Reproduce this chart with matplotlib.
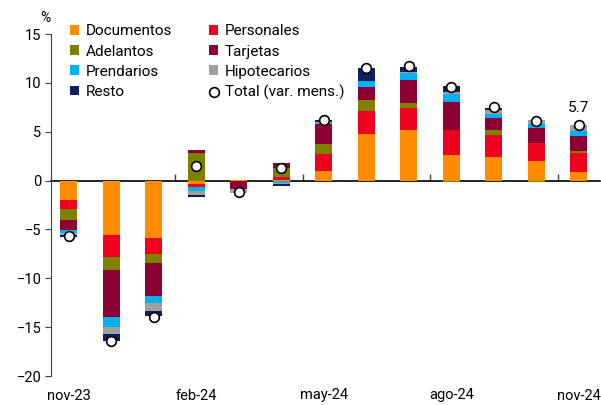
import numpy as np
import matplotlib.pyplot as plt
from matplotlib.lines import Line2D

plt.rcParams['font.family'] = ['Roboto', 'DejaVu Sans']

meses = ['nov-23', 'dic-23', 'ene-24', 'feb-24', 'mar-24', 'abr-24', 'may-24',
         'jun-24', 'jul-24', 'ago-24', 'sep-24', 'oct-24', 'nov-24']

# contribuciones en p.p.
documentos   = [-2.0, -5.53, -5.9, -0.34, 0.1, 0.05, 1.02, 4.78, 5.19, 2.59, 2.39, 1.98, 0.89]
personales   = [-0.92, -2.32, -1.6, -0.34, 0.0, 0.31, 1.71, 2.35, 2.25, 2.59, 2.25, 1.88, 1.94]
adelantos    = [-1.09, -1.33, -0.89, 2.8, -0.08, 0.89, 0.99, 1.09, 0.48, -0.17, 0.55, -0.1, 0.17]
tarjetas     = [-1.02, -4.78, -3.41, 0.3, -0.75, 0.58, 2.08, 1.4, 2.39, 2.83, 1.19, 1.54, 1.6]
prendarios   = [-0.31, -1.02, -0.75, -0.41, -0.03, -0.2, 0.1, 0.61, 0.68, 0.89, 0.48, 0.41, 0.44]
hipotecarios = [-0.24, -0.72, -0.75, -0.41, -0.4, -0.2, 0.05, 0.0, 0.1, 0.17, 0.38, 0.34, 0.65]
resto        = [-0.17, -0.68, -0.61, -0.14, 0.0, -0.15, 0.2, 1.26, 0.51, 0.65, 0.2, 0.0, 0.0]
total        = [-5.7, -16.4, -14.0, 1.45, -1.16, 1.3, 6.2, 11.5, 11.7, 9.6, 7.5, 6.1, 5.7]

series = [
    ('Documentos', documentos, '#FF8C00'),
    ('Personales', personales, '#F0001E'),
    ('Adelantos', adelantos, '#808000'),
    ('Tarjetas', tarjetas, '#8C0034'),
    ('Prendarios', prendarios, '#00B0F0'),
    ('Hipotecarios', hipotecarios, '#A0A0A0'),
    ('Resto', resto, '#0C1F5E'),
]

x = np.arange(len(meses))

fig = plt.figure(figsize=(6.01, 4.05), dpi=100)
ax = fig.add_axes([51/601, 29/405, 549/601, 342/405])

pos_base = np.zeros(len(x))
neg_base = np.zeros(len(x))
handles = {}
for nombre, vals, col in series:
    v = np.array(vals)
    base = np.where(v >= 0, pos_base, neg_base)
    b = ax.bar(x, v, 0.4, bottom=base, color=col, label=nombre, zorder=2)
    handles[nombre] = b
    pos_base += np.where(v >= 0, v, 0)
    neg_base += np.where(v < 0, v, 0)

ax.plot(x, total, 'o', ms=7, mfc='white', mec='black', mew=1.2, zorder=4)
ax.text(x[-1], total[-1] + 1.0, '5.7', ha='center', va='bottom', fontsize=11)

tot_h = Line2D([], [], ls='none', marker='o', ms=7, mfc='white', mec='black', mew=1.2)
orden = ['Documentos', 'Adelantos', 'Prendarios', 'Resto', 'Personales', 'Tarjetas', 'Hipotecarios']
hs = [handles[n] for n in orden] + [tot_h]
ls = orden + ['Total (var. mens.)']
ax.legend(hs, ls, ncol=2, loc='upper left', bbox_to_anchor=(0.035, 1.028), frameon=False,
          fontsize=11, handlelength=0.6, handleheight=0.6, handletextpad=0.4,
          labelspacing=0.4, columnspacing=2.45, borderpad=0, borderaxespad=0)

ax.set_xlim(-0.42, 12.5)
ax.set_ylim(-20, 15)
ax.set_yticks(np.arange(-20, 16, 5))
ax.set_xticks(x[::3])
ax.set_xticklabels(meses[::3][:3] + ['ago-24', 'nov-24'])
ax.tick_params(axis='x', length=0, pad=9, labelsize=10.5)
ax.tick_params(axis='y', length=4, color='#404040', labelsize=10.5, pad=3)
for s in ['top', 'right', 'bottom']:
    ax.spines[s].set_visible(False)
ax.spines['left'].set_color('#404040')

# eje cero con marcas trimestrales
sec = ax.secondary_xaxis(20/35)
sec.set_xticks([2.5, 5.5, 8.5, 11.5], labels=[])
sec.xaxis.set_ticks_position('bottom')
sec.tick_params(direction='in', length=5, width=1, color='#404040',
                labelbottom=False, labeltop=False)
for s in sec.spines.values():
    s.set_linewidth(1.2)

fig.text(45/601, 1 - 18/405, '%', ha='center', va='center', fontsize=10)

fig.savefig('out.png', dpi=100)
